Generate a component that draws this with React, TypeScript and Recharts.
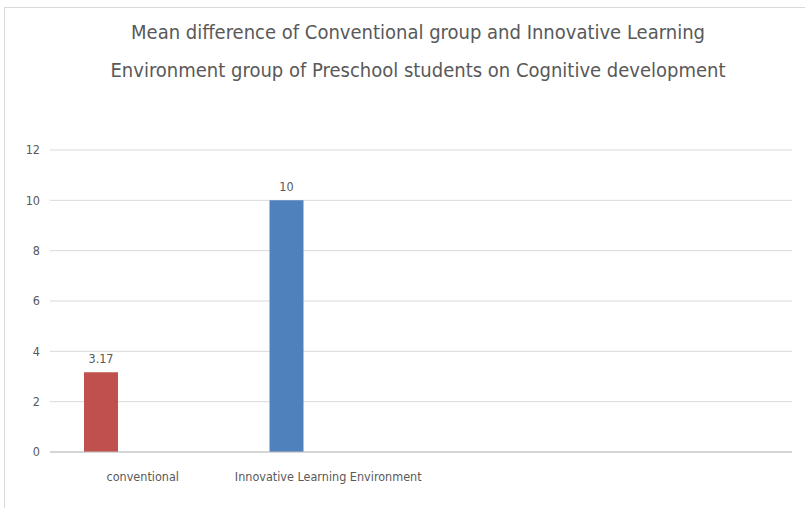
import { BarChart, Bar, XAxis, YAxis, CartesianGrid, LabelList, Cell } from "recharts";

const categories = ["conventional", "Innovative Learning Environment", "", ""];
const meanDiff = [3.17, 10, null, null];
const blankSeries = [null, null, null, null];
const barColors = ["#C0504D", "#4F81BD", "#C0504D", "#4F81BD"];
const yTicks = [0, 2, 4, 6, 8, 10, 12];
const titleLines = [
  "Mean difference of Conventional group and Innovative Learning",
  "Environment group of Preschool students on Cognitive development",
];

const data = categories.map((name, i) => ({ name, value: meanDiff[i], blank: blankSeries[i] }));

const font = "'Liberation Sans Narrow', 'DejaVu Sans Condensed', Arial, sans-serif";

export default function App() {
  return (
    <div
      style={{
        position: "absolute",
        left: 0,
        top: 0,
        width: 805,
        height: 508,
        background: "#fff",
        overflow: "hidden",
        fontFamily: font,
      }}
    >
      <div
        style={{
          position: "absolute",
          left: 4,
          top: 7,
          width: 830,
          height: 530,
          border: "1px solid #d9d9d9",
        }}
      />
      <div
        style={{
          position: "absolute",
          left: 30,
          width: 776,
          top: 13,
          textAlign: "center",
          color: "#595959",
          fontSize: 20,
          lineHeight: "38px",
        }}
      >
        {titleLines.map((t) => (
          <div key={t}>{t}</div>
        ))}
      </div>
      <div style={{ position: "absolute", left: 0, top: 0 }}>
        <BarChart
          width={805}
          height={508}
          data={data}
          margin={{ top: 150, right: 13, bottom: 26, left: 0 }}
          barSize={34}
          barGap={50}
        >
          <CartesianGrid vertical={false} stroke="#d9d9d9" />
          <XAxis
            dataKey="name"
            height={30}
            axisLine={{ stroke: "#bfbfbf" }}
            tickLine={false}
            tickMargin={14}
            interval={0}
            tick={{ fontSize: 12.5, fill: "#595959", fontFamily: font }}
          />
          <YAxis
            width={50}
            domain={[0, 12]}
            ticks={yTicks}
            axisLine={false}
            tickLine={false}
            tickMargin={4}
            tick={{ fontSize: 12.5, fill: "#595959", fontFamily: font }}
          />
          <Bar dataKey="value" isAnimationActive={false}>
            {data.map((d, i) => (
              <Cell key={`cell-${i}`} fill={barColors[i]} />
            ))}
            <LabelList
              dataKey="value"
              position="top"
              offset={9}
              style={{ fontSize: 12.5, fill: "#595959", fontFamily: font }}
            />
          </Bar>
          <Bar dataKey="blank" fill="#4F81BD" isAnimationActive={false} />
        </BarChart>
      </div>
    </div>
  );
}
